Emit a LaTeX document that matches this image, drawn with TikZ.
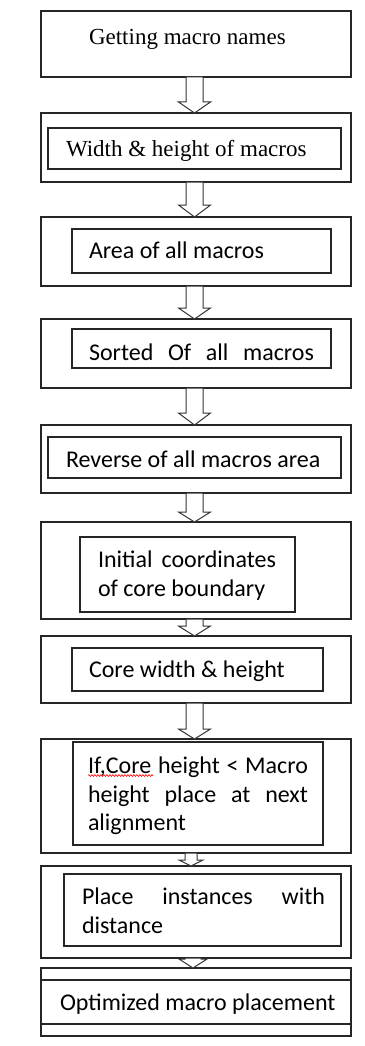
\documentclass[tikz,border=0pt]{standalone}
\usepackage{fontspec}
\setmainfont{Liberation Serif}
\newfontfamily\calib{Carlito}
\usetikzlibrary{calc,decorations.pathmorphing}

% rectangle node spanning (x1,y1)-(x2,y2); y grows downwards
\newcommand\flowbox[6][]{%
  \node[frame,#1,minimum width={(#5-#3)*1pt},minimum height={(#6-#4)*1pt}]
    (#2) at ({(#3+#5)/2},{(#4+#6)/2}) {};}

% hollow block arrow: [xshift]{from}{to}{head length}{shaft half width}{head half width}
\newcommand\hollowarrow[6][-1.5]{%
  \draw[harrow] let \p1=(#2.south), \p2=(#3.north) in
    (\x1+#1pt-#5pt,\y1) -- (\x1+#1pt-#5pt,\y2+#4pt) -- (\x1+#1pt-#6pt,\y2+#4pt)
    -- (\x1+#1pt,\y2) -- (\x1+#1pt+#6pt,\y2+#4pt) -- (\x1+#1pt+#5pt,\y2+#4pt)
    -- (\x1+#1pt+#5pt,\y1) -- cycle;}

\begin{document}
\begin{tikzpicture}[x=1pt,y=-1pt,
  frame/.style={draw=black!85,line width=1.2pt,inner sep=0pt,outer sep=0pt},
  harrow/.style={draw=black!80,fill=white,line width=1pt,line join=miter},
  serif/.style={inner sep=0pt,outer sep=0pt,anchor=base west,font=\fontsize{23}{28}\selectfont},
  sans/.style={inner sep=0pt,outer sep=0pt,anchor=base west,font=\calib\fontsize{24}{29}\selectfont},
  spell/.style={draw=red,line width=0.6pt,decorate,
    decoration={snake,amplitude=0.9pt,segment length=3pt}}]
\useasboundingbox (0,0) rectangle (364,1046);

% outer frames
\flowbox{b1}{41}{11}{351}{77}
\flowbox{b2}{41}{113}{351}{182}
\flowbox{b3}{41}{217}{351}{286}
\flowbox{b4}{41}{319}{351}{388}
\flowbox{b5}{41}{425}{351}{493}
\flowbox{b6}{41}{522}{351}{619}
\flowbox{b7}{41}{636}{351}{703}
\flowbox{b8}{41}{739}{351}{853}
\flowbox{b9}{41}{866}{351}{958}
\flowbox{b10}{41}{968}{351}{1036}

% inner frames
\flowbox{i2}{48}{128}{341}{169}
\flowbox{i3}{72}{229}{331}{273}
\flowbox{i4}{72}{329}{331}{368}
\flowbox{i5}{48}{437}{341}{478}
\flowbox{i6}{80}{537}{295}{612}
\flowbox{i7}{72}{648}{323}{691}
\flowbox{i8}{73}{742}{323}{845}
\flowbox{i9}{64}{874}{341}{946}
\flowbox{i10}{41}{980}{351}{1024}

% labels
\node[serif] (t1) at (89,45) {Getting macro names};
\node[serif] (t2) at (66,157) {Width \& height of macros};
\node[sans] (t3) at (89,258) {Area of all macros};
\node[sans] (t4) at (89,360) {\makebox[225pt][s]{Sorted Of all macros}};
\node[sans] (t5) at (66,467) {Reverse of all macros area};
\node[sans] (t6a) at (98,567) {\makebox[178pt][s]{Initial coordinates}};
\node[sans] (t6b) at (98,596) {of core boundary};
\node[sans] (t7) at (89,677) {Core width \& height};
\node[sans] (t8a) at (88,773) {\makebox[220pt][s]{If,Core height < Macro}};
\node[sans] (t8b) at (88,802) {\makebox[220pt][s]{height place at next}};
\node[sans] (t8c) at (88,830) {alignment};
\node[sans] (t9a) at (82,904) {\makebox[243pt][s]{Place instances with}};
\node[sans] (t9b) at (82,933) {distance};
\node[sans] (t10) at (60,1010) {Optimized macro placement};

% spell-check underline
\draw[spell] ($(t8a.base west)+(0,2.5)$) -- ($(t8a.base west)+(65,2.5)$);

% flow arrows
\hollowarrow{b1}{b2}{11}{8.5}{16}
\hollowarrow{b2}{b3}{12}{8.5}{16}
\hollowarrow{b3}{b4}{11}{8.5}{16}
\hollowarrow{b4}{b5}{12}{8.5}{16}
\hollowarrow{b5}{b6}{10}{8.5}{16}
\hollowarrow{b6}{b7}{10}{8.5}{16}
\hollowarrow{b7}{b8}{10}{8.5}{16}
\hollowarrow[-5]{b8}{b9}{6}{6}{12}
\hollowarrow[-3]{b9}{b10}{9}{8}{14}
\end{tikzpicture}
\end{document}
